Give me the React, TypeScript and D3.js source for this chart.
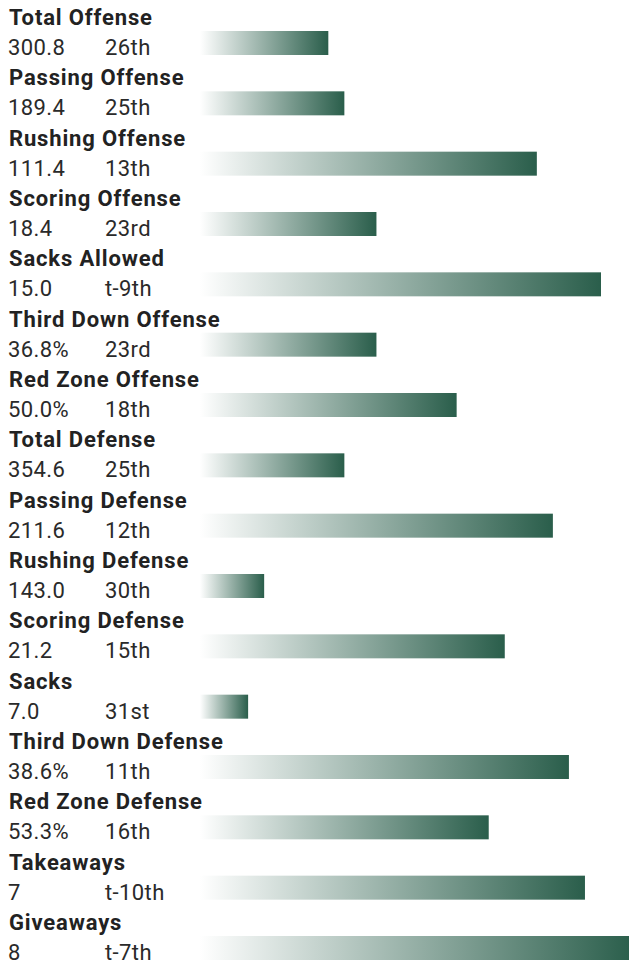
import React from "react";
import * as d3 from "d3";

const categories = [
  "Total Offense",
  "Passing Offense",
  "Rushing Offense",
  "Scoring Offense",
  "Sacks Allowed",
  "Third Down Offense",
  "Red Zone Offense",
  "Total Defense",
  "Passing Defense",
  "Rushing Defense",
  "Scoring Defense",
  "Sacks",
  "Third Down Defense",
  "Red Zone Defense",
  "Takeaways",
  "Giveaways",
];
const values = [
  "300.8", "189.4", "111.4", "18.4", "15.0", "36.8%", "50.0%", "354.6",
  "211.6", "143.0", "21.2", "7.0", "38.6%", "53.3%", "7", "8",
];
const rankLabels = [
  "26th", "25th", "13th", "23rd", "t-9th", "23rd", "18th", "25th",
  "12th", "30th", "15th", "31st", "11th", "16th", "t-10th", "t-7th",
];
const ranks = [26, 25, 13, 23, 9, 23, 18, 25, 12, 30, 15, 31, 11, 16, 10, 7];

const W = 629;
const H = 963;
const rowPitch = 905 / 15;
const barX0 = 200;

export default function App() {
  const len = d3.scaleLinear().domain([34, 0]).range([0, 34 * 16.04]);
  const rowY = d3
    .scaleLinear()
    .domain([0, categories.length - 1])
    .range([0, rowPitch * (categories.length - 1)]);
  const font = "Roboto, 'DejaVu Sans', sans-serif";
  return (
    <svg
      width={W}
      height={H}
      style={{ position: "absolute", left: 0, top: 0, background: "#fff" }}
      fontFamily={font}
    >
      <defs>
        <linearGradient id="barGrad" x1="0" x2="1" y1="0" y2="0">
          <stop offset="0%" stopColor="#ffffff" />
          <stop offset="100%" stopColor="#2a5e4b" />
        </linearGradient>
      </defs>
      {categories.map((c, i) => {
        const y0 = rowY(i);
        return (
          <g key={c} transform={`translate(0,${y0})`}>
            <text
              x={9}
              y={25}
              fontSize={22}
              fontWeight={700}
              letterSpacing={0.85}
              fill="#222"
            >
              {c}
            </text>
            <text x={8} y={55} fontSize={22} letterSpacing={0.4} fill="#2a2a2a">
              {values[i]}
            </text>
            <text x={105} y={55} fontSize={22} letterSpacing={0.4} fill="#2a2a2a">
              {rankLabels[i]}
            </text>
            <rect
              x={barX0}
              y={31}
              width={len(ranks[i])}
              height={24}
              fill="url(#barGrad)"
            />
          </g>
        );
      })}
    </svg>
  );
}
